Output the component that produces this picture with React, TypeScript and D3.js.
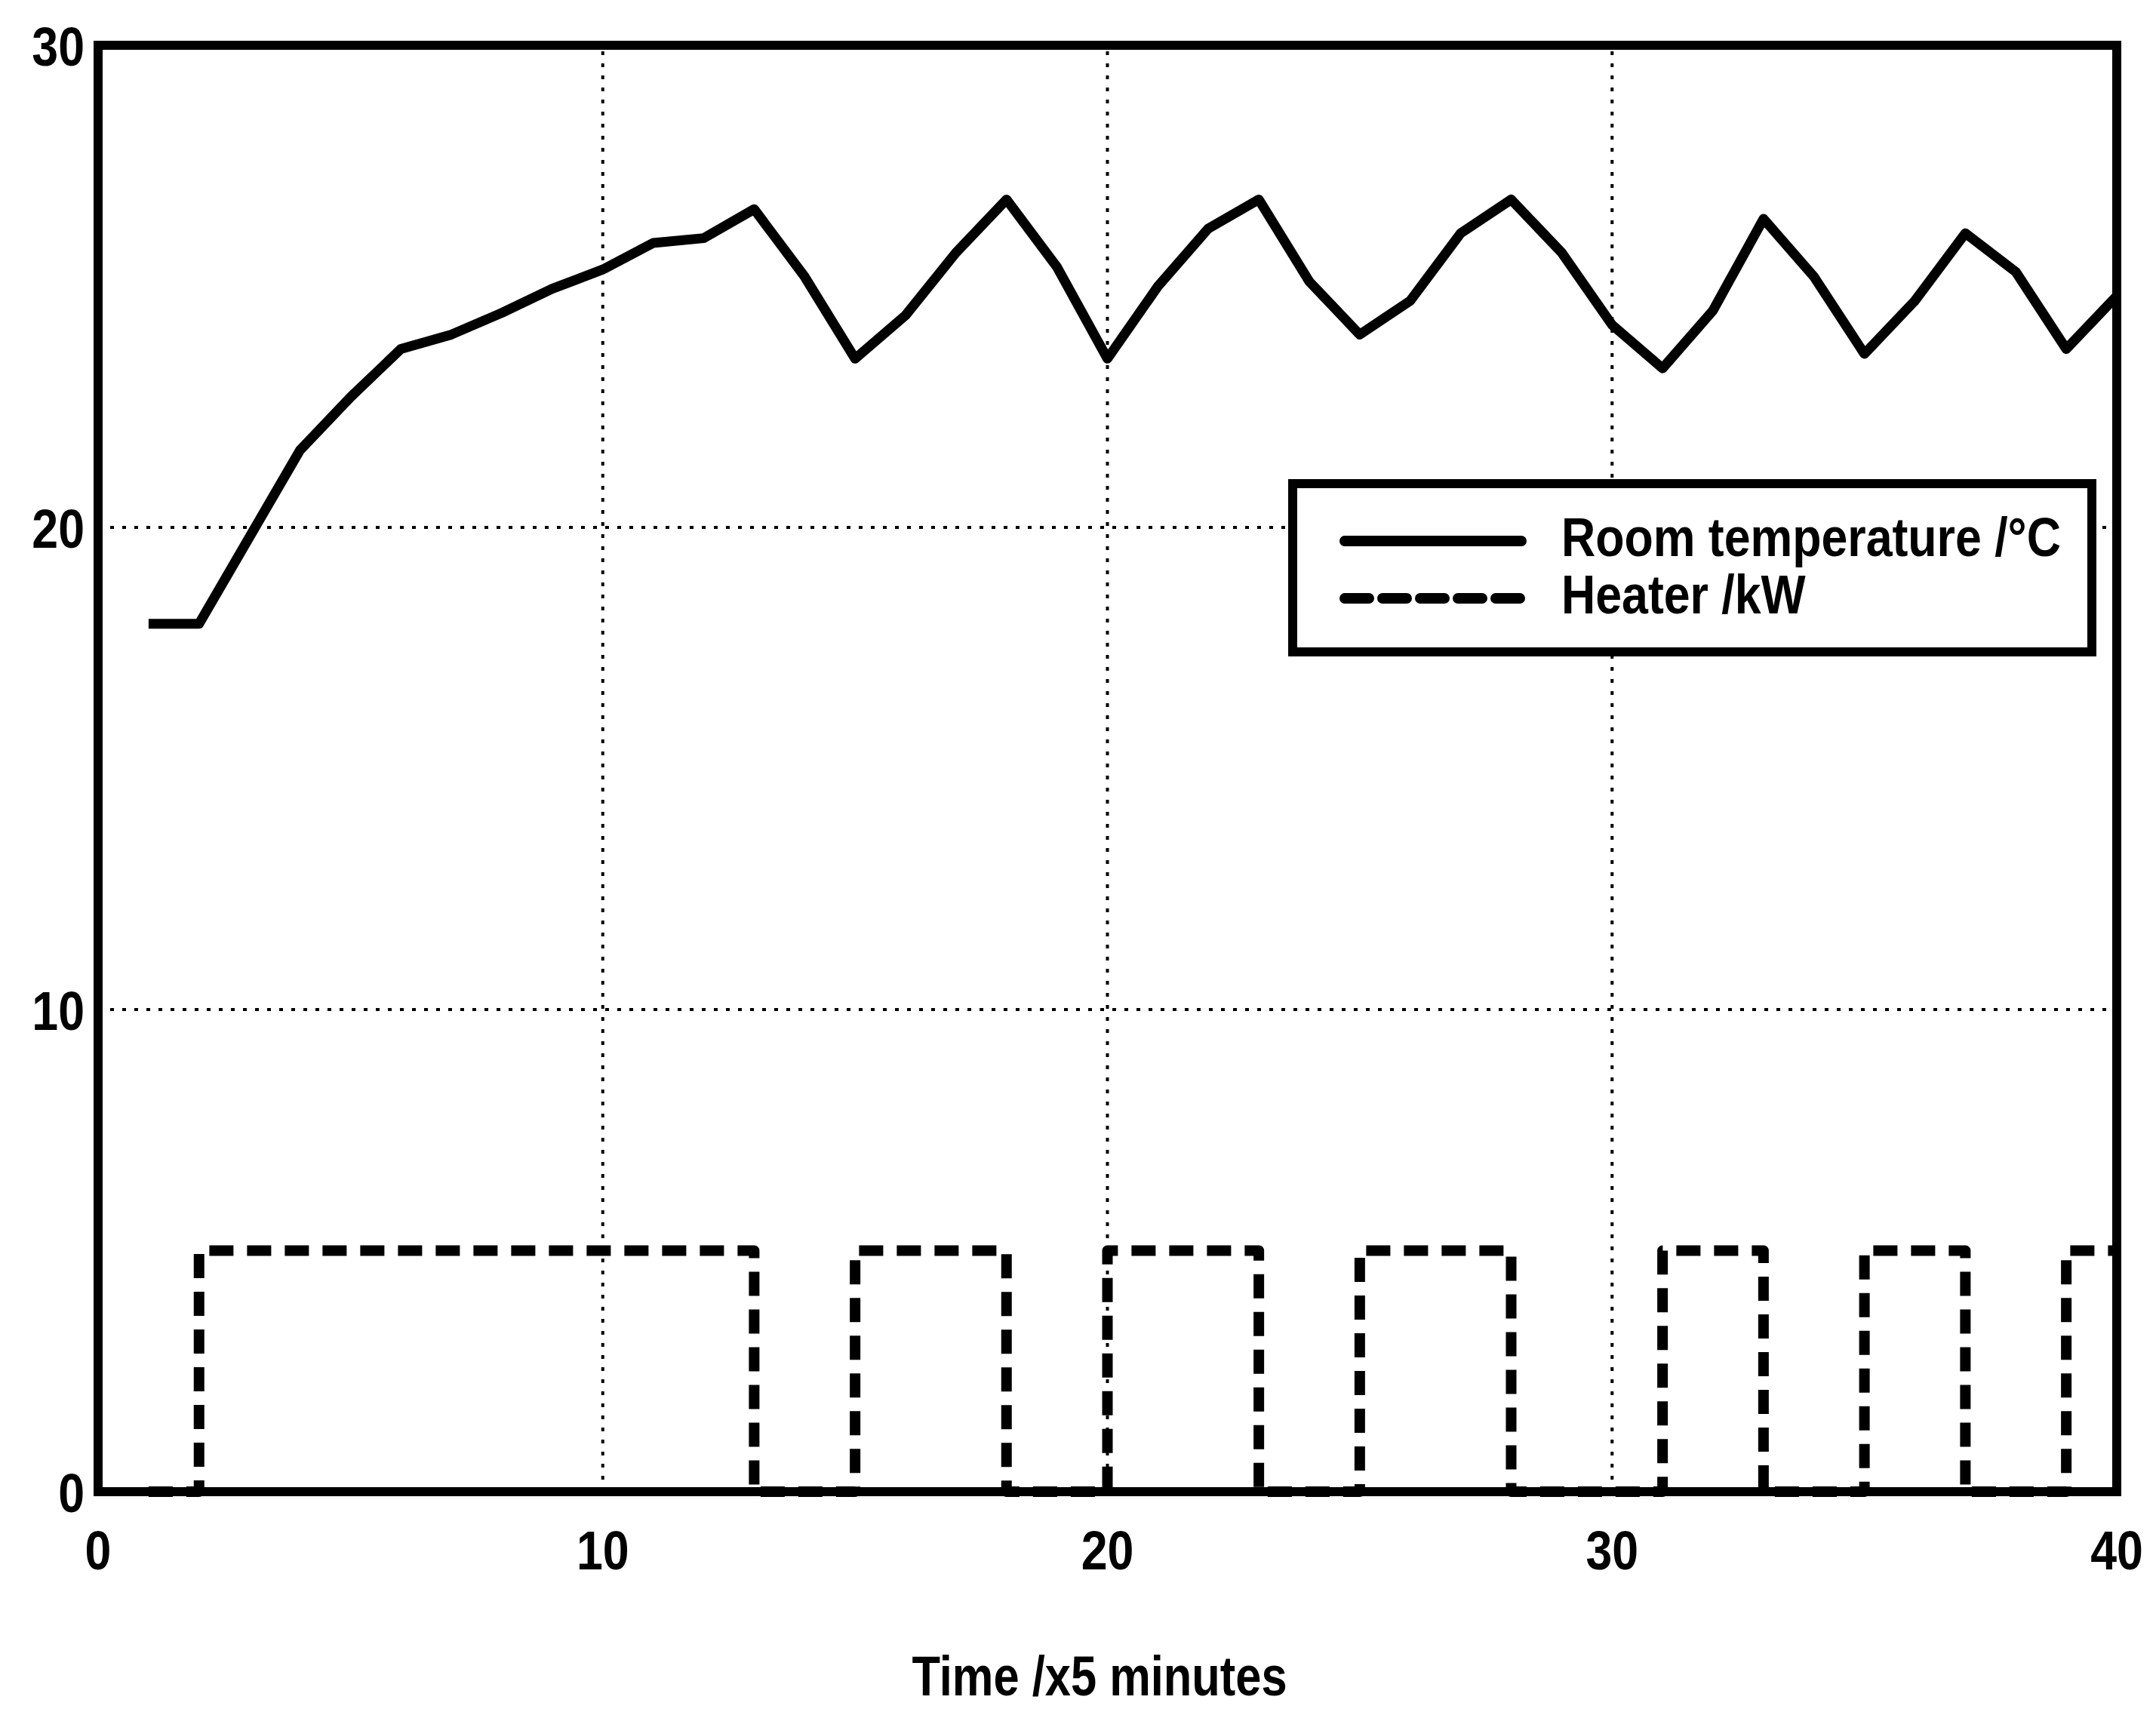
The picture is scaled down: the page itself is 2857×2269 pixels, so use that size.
import React from 'react';
import * as d3 from 'd3';

// time steps (x5 minutes)
const times = d3.range(1, 41);

// room temperature /°C
const roomTemp = [
  18.0, 18.0, 19.8, 21.6, 22.7, 23.7, 24.0, 24.45, 24.95, 25.35,
  25.9, 26.0, 26.6, 25.2, 23.5, 24.4, 25.7, 26.8, 25.4, 23.5,
  25.0, 26.2, 26.8, 25.1, 24.0, 24.7, 26.1, 26.8, 25.7, 24.2,
  23.3, 24.5, 26.4, 25.2, 23.6, 24.7, 26.1, 25.3, 23.7, 24.8,
];

// heater power /kW, held from each step to the next
const heater = [
  0, 5, 5, 5, 5, 5, 5, 5, 5, 5,
  5, 5, 0, 0, 5, 5, 5, 0, 0, 5,
  5, 5, 0, 0, 5, 5, 5, 0, 0, 0,
  5, 5, 0, 0, 5, 5, 0, 0, 5, 5,
];

const xTicks = [0, 10, 20, 30, 40];
const yTicks = [0, 10, 20, 30];

const legendItems = [
  { label: 'Room temperature /°C', dash: 'none' },
  { label: 'Heater /kW', dash: '32 18' },
];

const W = 2857;
const H = 2269;
const FONT = '"Liberation Sans", Arial, Helvetica, sans-serif';
const SQUEEZE = 0.87;

export default function App() {
  const x = d3.scaleLinear().domain([0, 40]).range([130, 2805]);
  const y = d3.scaleLinear().domain([0, 30]).range([1977, 60]);

  const tempLine = d3
    .line<number>()
    .x((_, i) => x(times[i]))
    .y((d) => y(d));

  const heaterLine = d3
    .line<number>()
    .curve(d3.curveStepAfter)
    .x((_, i) => x(times[i]))
    .y((d) => y(d));

  const [x0, x1] = x.range();
  const [y0, y1] = y.range();

  const label = (text: string, tx: number, ty: number, anchor: string, size = 72, sq = SQUEEZE) => (
    <text
      key={text + tx + ty}
      transform={`translate(${tx},${ty}) scale(${sq},1)`}
      textAnchor={anchor}
      fontFamily={FONT}
      fontWeight="bold"
      fontSize={size}
      fill="#000"
    >
      {text}
    </text>
  );

  // legend box
  const lg = { x: 1713, y: 641, w: 1059, h: 223 };

  return (
    <svg
      width={W}
      height={H}
      style={{ position: 'absolute', left: 0, top: 0, background: '#fff' }}
    >
      <rect width={W} height={H} fill="#fff" />

      {/* dotted grid */}
      <g stroke="#000" strokeWidth={4} strokeDasharray="5 11">
        {xTicks.map((t) => (
          <line key={'gx' + t} x1={x(t)} x2={x(t)} y1={y0} y2={y1} />
        ))}
        {yTicks.map((t) => (
          <line key={'gy' + t} x1={x0} x2={x1} y1={y(t)} y2={y(t)} />
        ))}
      </g>

      {/* heater */}
      <path
        d={heaterLine(heater) || ''}
        fill="none"
        stroke="#000"
        strokeWidth={14}
        strokeDasharray="32 18"
        strokeLinejoin="round"
      />

      {/* room temperature */}
      <path
        d={tempLine(roomTemp) || ''}
        fill="none"
        stroke="#000"
        strokeWidth={13}
        strokeLinejoin="round"
      />

      {/* axes box */}
      <rect
        x={x0}
        y={y1}
        width={x1 - x0}
        height={y0 - y1}
        fill="none"
        stroke="#000"
        strokeWidth={12}
      />

      {/* tick labels */}
      {xTicks.map((t) => label(String(t), x(t), 2080, 'middle'))}
      {yTicks.map((t) => label(String(t), 112, y(t) + 27, 'end'))}

      {/* axis title */}
      {label('Time /x5 minutes', 1457, 2247, 'middle', 74, 0.83)}

      {/* legend */}
      <rect
        x={lg.x}
        y={lg.y}
        width={lg.w}
        height={lg.h}
        fill="#fff"
        stroke="#000"
        strokeWidth={12}
      />
      {legendItems.map((item, i) => {
        const ly = 717 + i * 76;
        return (
          <g key={item.label}>
            <line
              x1={1782}
              x2={2016}
              y1={ly}
              y2={ly}
              stroke="#000"
              strokeWidth={14}
              strokeDasharray={item.dash}
              strokeLinecap="round"
            />
            {label(item.label, 2069, ly + 20, 'start')}
          </g>
        );
      })}
    </svg>
  );
}
